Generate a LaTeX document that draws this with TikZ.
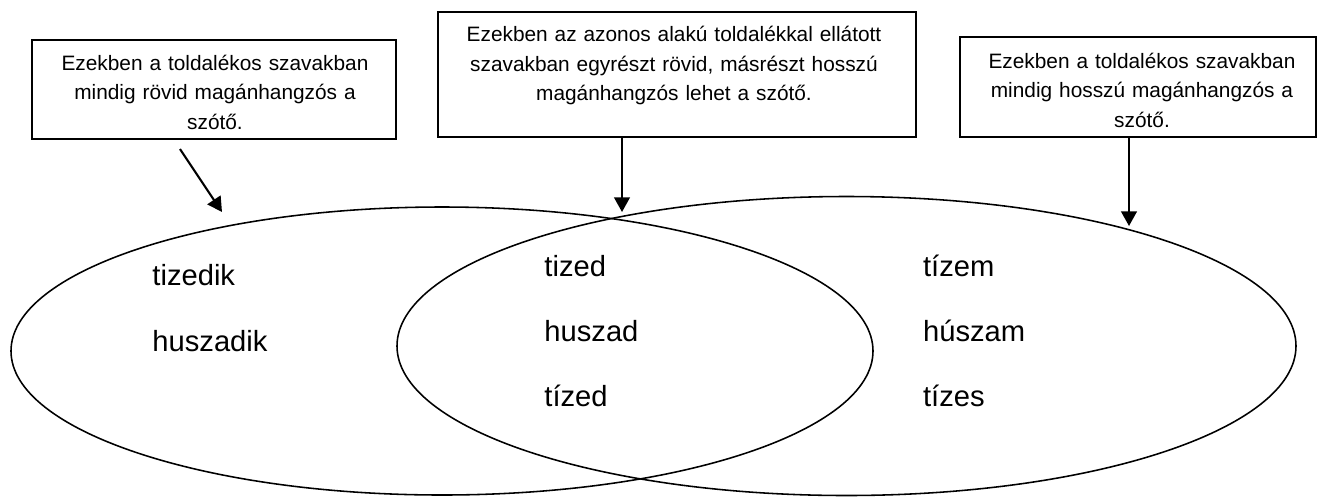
\documentclass[tikz,border=0pt]{standalone}
\usepackage{fontspec}
\setmainfont{Liberation Sans}
\usetikzlibrary{arrows.meta,shapes.geometric}
\begin{document}
\begin{tikzpicture}[x=0.48pt,y=-0.48pt,
  box/.style={draw, line width=0.6pt, inner sep=0pt},
  boxtext/.style={font=\fontsize{10}{14.1}\selectfont, align=center, inner sep=0pt, anchor=base},
  word/.style={font=\fontsize{14}{16}\selectfont, anchor=base west, inner sep=0pt},
  vset/.style={ellipse, draw, line width=0.75pt, inner sep=0pt},
  arr/.style={-{Triangle[length=7pt,width=7.5pt]}, line width=1pt}]
\useasboundingbox (0,0) rectangle (1331,497);

% sets
\node[vset, minimum width=862*0.48pt, minimum height=288*0.48pt] (e1) at (442,351) {};
\node[vset, minimum width=899*0.48pt, minimum height=299*0.48pt] (e2) at (846.5,346) {};

% boxes
\node[box, minimum width=364*0.48pt, minimum height=99*0.48pt] (b1) at (214,89.5) {};
\node[box, minimum width=478*0.48pt, minimum height=125*0.48pt] (b2) at (677,74.5) {};
\node[box, minimum width=356*0.48pt, minimum height=100*0.48pt] (b3) at (1138,87) {};

\node[boxtext, text width=350*0.48pt] (t1) at (215,70.3) {Ezekben a toldalékos szavakban\\mindig rövid magánhangzós a\\szótő.};
\node[boxtext, text width=460*0.48pt] (t2) at (674,41.7) {Ezekben az azonos alakú toldalékkal ellátott\\szavakban egyrészt rövid, másrészt hosszú\\magánhangzós lehet a szótő.};
\node[boxtext, text width=345*0.48pt] (t3) at (1142,68.3) {Ezekben a toldalékos szavakban\\mindig hosszú magánhangzós a\\szótő.};

% arrows
\coordinate (a1s) at (180,149);
\coordinate (a1e) at (222,212);
\coordinate (a2e) at (622,212);
\coordinate (a3e) at (1129,226);
\draw[arr] (a1s) -- (a1e);
\draw[arr] (b2.south -| a2e) -- (a2e);
\draw[arr] (b3.south -| a3e) -- (a3e);

% words
\node[word] (w1) at (152,285) {tizedik};
\node[word] (w2) at (152,351.7) {huszadik};
\node[word] (w3) at (544,276) {tized};
\node[word] (w4) at (544,341.7) {huszad};
\node[word] (w5) at (544,406.7) {tízed};
\node[word] (w6) at (922.7,276) {tízem};
\node[word] (w7) at (922.7,341.7) {húszam};
\node[word] (w8) at (922.7,406.7) {tízes};
\end{tikzpicture}
\end{document}
